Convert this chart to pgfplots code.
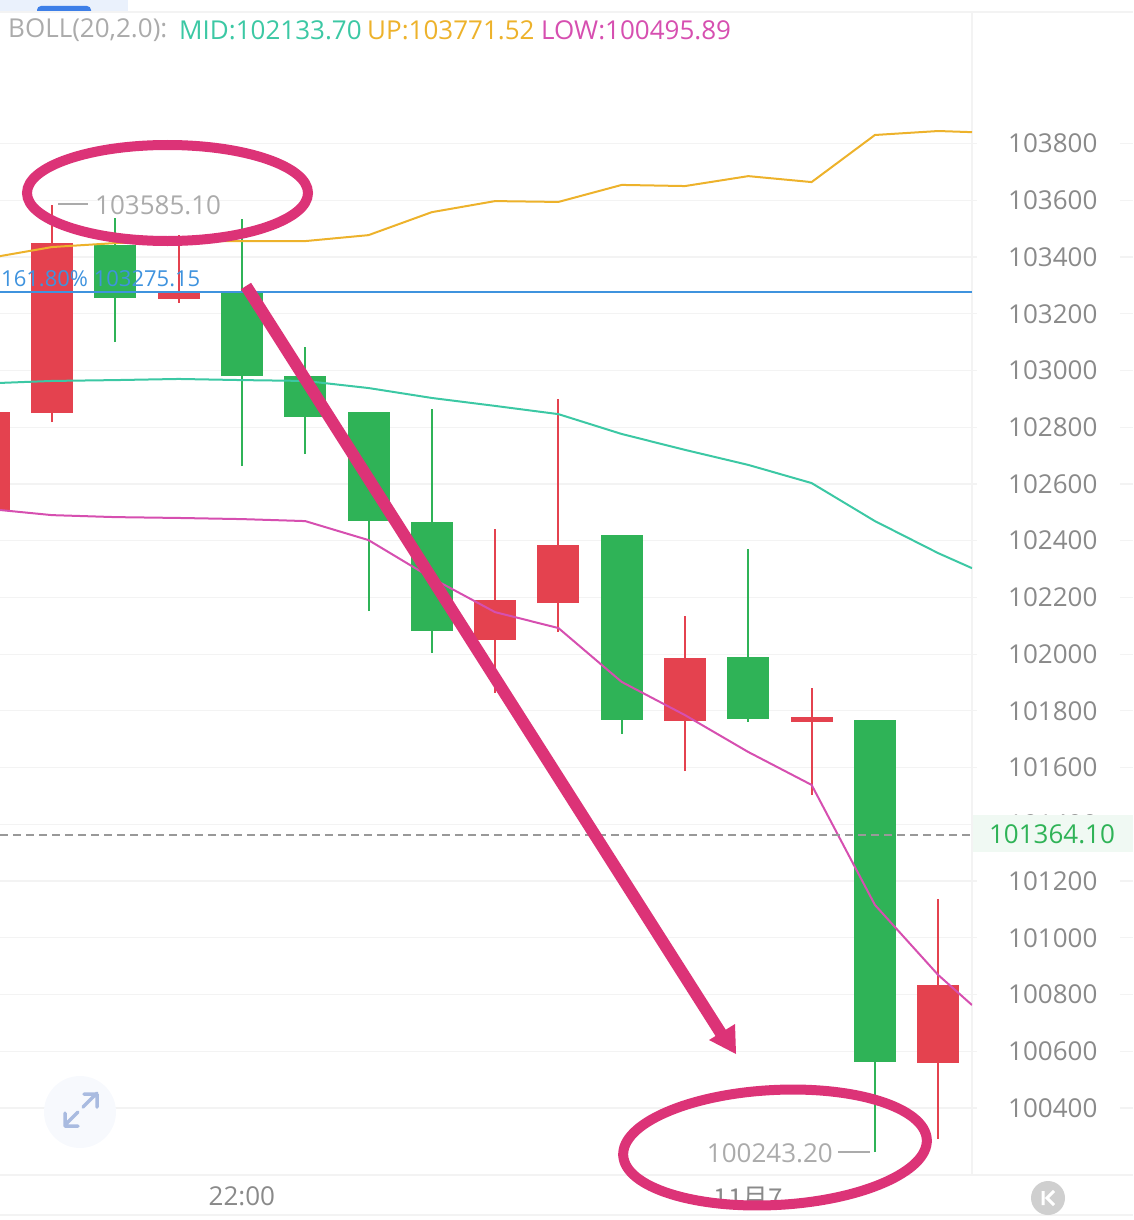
\documentclass[border=0pt]{standalone}
\usepackage{fontspec}
\setmainfont{Open Sans}
\newfontfamily\cjk{Noto Sans CJK SC}
\usepackage{pgfplots}
\usepackage{pgfplotstable}
\pgfplotsset{compat=1.18}

\definecolor{cgreen}{HTML}{2FB357}
\definecolor{cred}{HTML}{E4424F}
\definecolor{cmid}{HTML}{3CC8A4}
\definecolor{cup}{HTML}{EDB22B}
\definecolor{clow}{HTML}{D64FB0}
\definecolor{cfib}{HTML}{3F93DE}
\definecolor{gridc}{HTML}{F3F3F3}
\definecolor{ticktxt}{HTML}{8A8A8A}
\definecolor{lbl}{HTML}{ABABAB}
\definecolor{pen}{HTML}{DC3377}
\definecolor{tabbg}{HTML}{EAF1FC}
\definecolor{tabfg}{HTML}{3D7FE8}
\definecolor{lastbg}{HTML}{F0F9F3}
\definecolor{iconbg}{HTML}{F7F9FD}
\definecolor{iconfg}{HTML}{A9BBE0}
\definecolor{kbg}{HTML}{CFCFCF}

% x is the candle index, y the price
\pgfplotstableread{
x   low    high   blo    bhi
1   103100 103537 103255 103442
3   102663 103534 102980 103273
4   102705 103083 102836 102980
5   102152 102853 102469 102853
6   102004 102864 102081 102466
9   101718 102420 101768 102420
11  101761 102370 101771 101990
13  100245 101768 100562 101768
}\greens
\pgfplotstableread{
x   low    high   blo    bhi
-1  102508 102853 102508 102853
0   102818 103583 102850 103449
2   103238 103477 103252 103273
7   101863 102441 102050 102191
8   102078 102899 102180 102385
10  101588 102134 101764 101986
12  101503 101880 101761 101778
14  100291 101137 100559 100834
}\reds
\pgfplotstableread{
x       up     mid    low
-0.8215 103403 102956 102508
0       103435 102963 102490
1       103449 102966 102483
2       103456 102970 102480
3       103456 102966 102476
4       103456 102963 102469
5       103477 102938 102402
6       103558 102903 102268
7       103597 102875 102148
8       103594 102846 102092
9       103654 102776 101902
10      103650 102720 101785
11      103685 102667 101655
12      103664 102603 101539
13      103830 102469 101116
14      103844 102356 100869
14.534  103840 102303 100763
}\boll

\pgfplotsset{
  wick/.style={draw=none, no markers, forget plot,
    error bars/.cd, y dir=plus, y explicit, error mark=none,
    error bar style={draw=#1, line width=2pt}},
  body/.style={draw=none, no markers, forget plot,
    error bars/.cd, y dir=plus, y explicit, error mark=none,
    error bar style={draw=#1, line width=42pt}},
}

\begin{document}
\begin{tikzpicture}[x=1pt,y=-1pt,font=\fontsize{26}{30}\selectfont]
\useasboundingbox (0,0) rectangle (1133,1220);
\fill[tabbg] (0,0) rectangle (128,12);
\fill[tabfg, rounded corners=4pt] (37,6) rectangle (91,16);
\fill[white] (0,12) rectangle (1133,20);

\begin{axis}[
  at={(0pt,-12pt)}, anchor=north west,
  scale only axis, width=972pt, height=1163pt,
  xmin=-0.8215, xmax=14.534,
  ymin=100163.86, ymax=104263.55,
  axis x line=bottom, axis y line=right,
  axis line style={gridc, line width=1.2pt, -},
  xtick={3,11},
  xticklabels={22:00,{\cjk 11月7}},
  ytick={100400,100600,100800,101000,101200,101400,101600,101800,102000,102200,102400,102600,102800,103000,103200,103400,103600,103800},
  yticklabels={100400,100600,100800,101000,101200,101400,101600,101800,102000,102200,102400,102600,102800,103000,103200,103400,103600,103800},
  scaled y ticks=false,
  ymajorgrids,
  grid style={gridc, line width=1.2pt},
  xtick style={draw=none},
  ytick style={gridc, line width=1.2pt},
  major tick length=10pt,
  tick label style={font=\fontsize{26}{30}\selectfont, text=ticktxt},
  x tick label style={yshift=-3pt},
  y tick label style={anchor=west, inner sep=0pt, xshift=31pt},
]
% wicks
\addplot[wick=cgreen] table[x=x, y=low, y error plus expr=\thisrow{high}-\thisrow{low}] {\greens};
\addplot[wick=cred] table[x=x, y=low, y error plus expr=\thisrow{high}-\thisrow{low}] {\reds};
% bodies
\addplot[body=cgreen] table[x=x, y=blo, y error plus expr=\thisrow{bhi}-\thisrow{blo}] {\greens};
\addplot[body=cred] table[x=x, y=blo, y error plus expr=\thisrow{bhi}-\thisrow{blo}] {\reds};
% BOLL bands
\addplot[cup, line width=2pt] table[x=x, y=up] {\boll};
\addplot[cmid, line width=2pt] table[x=x, y=mid] {\boll};
\addplot[clow, line width=2pt] table[x=x, y=low] {\boll};
% fibonacci level and last price
\addplot[cfib, line width=2pt] coordinates {(-0.8215,103275.15) (14.534,103275.15)};
\addplot[black!40, line width=2pt, dash pattern=on 8pt off 5pt] coordinates {(-0.8215,101364.10) (14.534,101364.10)};
\end{axis}

% right hand stubs of the price grid
\foreach \k in {0,...,17} \draw[gridc, line width=1.2pt] (1120,143.5+56.736*\k) -- (1133,143.5+56.736*\k);
\draw[gridc, line width=1.2pt] (0,12) -- (1133,12);
\draw[gridc, line width=1.2pt] (972,1175) -- (1133,1175);
\draw[gridc, line width=1.2pt] (0,1215) -- (1133,1215);

% last price tag
\fill[lastbg] (973,815) rectangle (1133,852);
\node[anchor=center, inner sep=0pt, text=cgreen] at (1052,834) {101364.10};

% header
\node[anchor=west, inner sep=0pt, text=lbl] at (8,30) {BOLL(20,2.0):};
\node[anchor=west, inner sep=0pt, text=cmid] at (179,30) {MID:102133.70};
\node[anchor=west, inner sep=0pt, text=cup] at (367,30) {UP:103771.52};
\node[anchor=west, inner sep=0pt, text=clow] at (541,30) {LOW:100495.89};

% extremes and fib label
\draw[lbl, line width=1.2pt] (58,204) -- (88,204);
\node[anchor=west, inner sep=0pt, text=lbl] at (95,205) {103585.10};
\node[anchor=east, inner sep=0pt, text=lbl] at (833,1153) {100243.20};
\draw[lbl, line width=1.2pt] (838,1152) -- (870,1152);
\node[anchor=west, inner sep=0pt, text=cfib, font=\fontsize{22}{26}\selectfont] at (1,279) {161.80\% 103275.15};

% expand icon
\fill[iconbg] (80,1112) circle (36);
\draw[iconfg, line width=3.5pt, line cap=round, line join=round] (83,1107) -- (97,1093) (84,1094) -- (97,1094) -- (97,1107);
\draw[iconfg, line width=3.5pt, line cap=round, line join=round] (78,1112) -- (65,1125) (65,1113) -- (65,1126) -- (78,1126);

% K button
\fill[kbg] (1048,1198) circle (17);
\draw[white, line width=3pt] (1043,1191) -- (1043,1205) (1054,1191) -- (1047,1198) -- (1054,1205);

% hand drawn marks
\draw[pen, line width=10pt] (167.5,193) ellipse [x radius=140.5, y radius=48];
\draw[pen, line width=10pt, rotate around={3:(775,1147.5)}] (775,1147.5) ellipse [x radius=152, y radius=57.5];
\draw[pen, line width=12pt] (246,286) -- (722,1035);
\fill[pen] (735,1024) -- (736,1054) -- (709,1040) -- cycle;
\end{tikzpicture}
\end{document}
